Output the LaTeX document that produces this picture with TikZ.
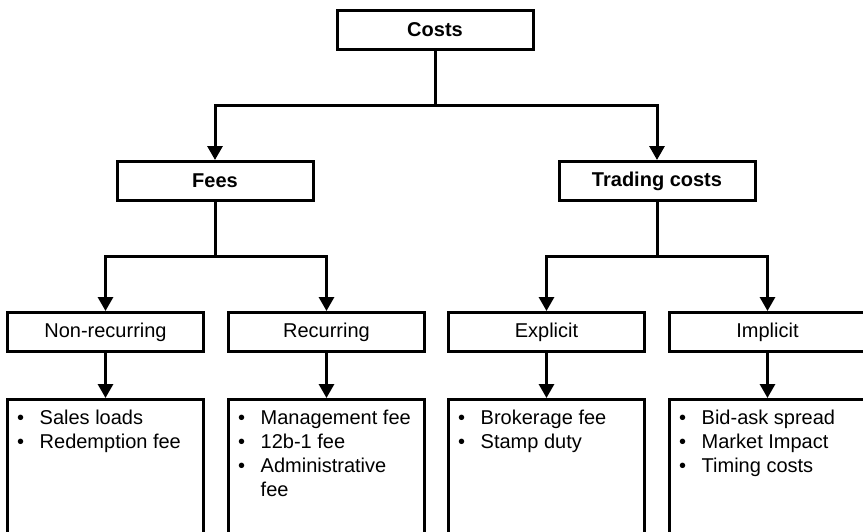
\documentclass[tikz,border=0pt]{standalone}
\usepackage{fontspec}
\setmainfont{Liberation Sans}
\usetikzlibrary{arrows.meta}
\begin{document}
\begin{tikzpicture}[x=1pt,y=-1pt,
  box/.style={draw, line width=3pt, fill=white, minimum width=196pt,
    minimum height=39pt, inner sep=0pt, font=\fontsize{20}{24}\selectfont},
  head/.style={box, font=\fontsize{20}{24}\selectfont\bfseries},
  listbox/.style={draw, line width=3pt, minimum width=196pt,
    minimum height=134pt, inner sep=0pt, anchor=north},
  list/.style={anchor=north west, inner sep=0pt, xshift=11pt, yshift=-9pt,
    font=\fontsize{20}{24}\selectfont},
  conn/.style={line width=3pt},
  arr/.style={conn, -{Triangle[width=15pt,length=14pt]}}
]
\useasboundingbox (0,0) rectangle (863,531);
\clip (0,0) rectangle (863,531);

% hierarchy boxes
\node[head] (costs) at (435,30) {Costs};
\node[head] (fees) at (215,181) {Fees};
\node[head] (trading) at (657,181) {Trading costs};
\node[box] (nonrec) at (105.5,332) {Non-recurring};
\node[box] (rec) at (326.5,332) {Recurring};
\node[box] (expl) at (546.5,332) {Explicit};
\node[box] (impl) at (767.5,332) {Implicit};

% detail boxes
\node[listbox] (nonrecl) at (105.5,398) {};
\node[listbox] (recl) at (326.5,398) {};
\node[listbox] (expll) at (546.5,398) {};
\node[listbox] (impll) at (767.5,398) {};

\newcommand{\bulletlist}[1]{\begin{tabular}{@{}l@{\hspace{15.5pt}}l@{}}#1\end{tabular}}
\node[list] (nonrect) at (nonrecl.north west)
  {\bulletlist{\textbullet & Sales loads\\ \textbullet & Redemption fee}};
\node[list] (rect) at (recl.north west)
  {\bulletlist{\textbullet & Management fee\\ \textbullet & 12b-1 fee\\
   \textbullet & Administrative\\ & fee}};
\node[list] (explt) at (expll.north west)
  {\bulletlist{\textbullet & Brokerage fee\\ \textbullet & Stamp duty}};
\node[list] (implt) at (impll.north west)
  {\bulletlist{\textbullet & Bid-ask spread\\ \textbullet & Market Impact\\
   \textbullet & Timing costs}};

% junction points
\coordinate (j0) at (costs.south |- 0,105);
\coordinate (j1) at (fees.south |- 0,256);
\coordinate (j2) at (trading.south |- 0,256);

% connectors
\draw[conn] (costs.south) -- (j0);
\draw[arr] (j0) -| (fees.north);
\draw[arr] (j0) -| (trading.north);
\draw[conn] (fees.south) -- (j1);
\draw[arr] (j1) -| (nonrec.north);
\draw[arr] (j1) -| (rec.north);
\draw[conn] (trading.south) -- (j2);
\draw[arr] (j2) -| (expl.north);
\draw[arr] (j2) -| (impl.north);
\draw[arr] (nonrec.south) -- (nonrecl.north);
\draw[arr] (rec.south) -- (recl.north);
\draw[arr] (expl.south) -- (expll.north);
\draw[arr] (impl.south) -- (impll.north);
\end{tikzpicture}
\end{document}
